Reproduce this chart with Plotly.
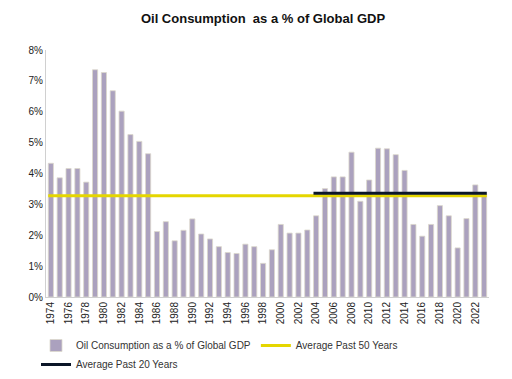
import plotly.graph_objects as go

years = list(range(1974, 2024))
oil_pct_gdp = [4.33, 3.86, 4.16, 4.16, 3.72, 7.36, 7.27, 6.68, 6.02, 5.26,
               5.04, 4.64, 2.12, 2.44, 1.82, 2.16, 2.53, 2.04, 1.88, 1.63,
               1.44, 1.41, 1.71, 1.63, 1.09, 1.53, 2.35, 2.07, 2.07, 2.17,
               2.63, 3.51, 3.89, 3.89, 4.69, 3.10, 3.79, 4.82, 4.80, 4.61,
               4.10, 2.35, 1.97, 2.35, 2.96, 2.63, 1.59, 2.54, 3.63, 3.34]
tick_years = years[::2]
tick_labels = [str(y) for y in tick_years]

avg50 = sum(oil_pct_gdp) / len(oil_pct_gdp)
last20 = oil_pct_gdp[-20:]
avg20 = sum(last20) / len(last20)

font = "Liberation Sans, Arial, sans-serif"

fig = go.Figure()
fig.add_trace(go.Bar(
    x=years, y=oil_pct_gdp, name="Oil Consumption as a % of Global GDP",
    marker=dict(color="#ABA1BE", line=dict(color="#DCD8CC", width=0.8)),
))
fig.add_trace(go.Scatter(
    x=[years[0] - 0.3, years[-1] + 0.3], y=[avg50, avg50], mode="lines",
    name="Average Past 50 Years", line=dict(color="#E5D600", width=3),
))
fig.add_trace(go.Scatter(
    x=[years[-20] - 0.3, years[-1] + 0.3], y=[avg20, avg20], mode="lines",
    name="Average Past 20 Years", line=dict(color="#0B1628", width=3),
))

fig.update_layout(
    width=512, height=379,
    margin=dict(l=38, r=31, t=42, b=90),
    paper_bgcolor="white", plot_bgcolor="white",
    font=dict(family=font, size=10, color="#222"),
    title=dict(text="<b>Oil Consumption  as a % of Global GDP</b>", x=255 / 512, xanchor="center",
               xref="container", yref="container",
               y=1 - 10 / 379, yanchor="middle", font=dict(size=13, color="#111")),
    bargap=0.42,
    showlegend=True,
    legend=dict(orientation="h", x=28 / 512, xanchor="left", xref="container",
                yref="container", y=1 - 323 / 379, yanchor="top",
                font=dict(size=10, color="#333"), traceorder="normal",
                tracegroupgap=0, itemwidth=30),
    xaxis=dict(range=[1973.45, 2023.55], tickmode="array", tickvals=tick_years,
               ticktext=tick_labels, tickangle=-90, showgrid=False, automargin=False,
               showline=True, linecolor="#D0D0D0", linewidth=1, ticks="",
               tickfont=dict(size=10, color="#222"), zeroline=False),
    yaxis=dict(range=[0, 8], dtick=1, ticksuffix="%", showgrid=False, automargin=False,
               showline=True, linecolor="#D0D0D0", linewidth=1, ticks="",
               tickfont=dict(size=10, color="#222"), zeroline=False),
)

fig.write_html("out.html")
